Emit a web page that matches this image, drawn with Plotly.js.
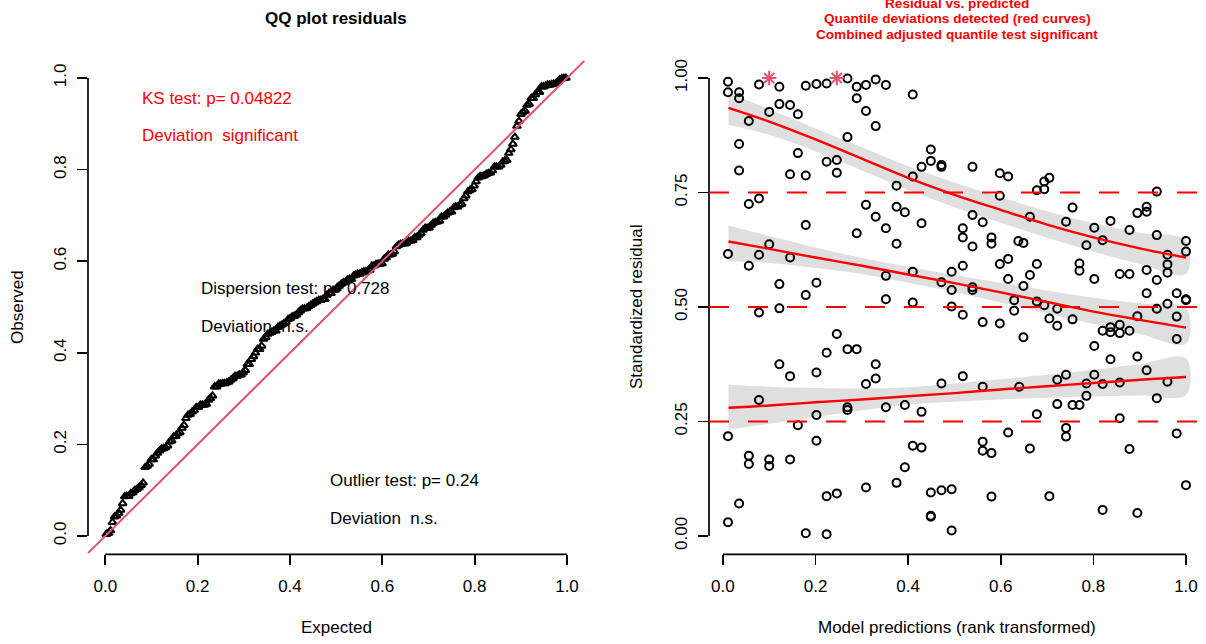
<!DOCTYPE html>
<html>
<head>
<meta charset="utf-8">
<script src="https://cdn.plot.ly/plotly-3.0.1.min.js"></script>
<style>html,body{margin:0;padding:0;background:#fff;}#chart{width:1206px;height:644px;}</style>
</head>
<body>
<div id="chart"></div>
<script>
// ---------- data ----------
// rank-transformed model predictions (x) and scaled residuals (y)
const pred = [
0.011,0.011,0.035,0.035,0.078,0.122,0.179,0.202,0.224,0.269,0.289,0.309,0.330,0.289,0.309,0.330,0.122,0.145,0.162,0.100,0.056,0.035,0.035,0.162,0.145,0.179,0.224,0.246,0.246,0.269,0.056,0.078,0.179,0.309,0.330,
0.352,0.410,0.449,0.449,0.429,0.472,0.472,0.539,0.598,0.616,0.410,0.375,0.375,0.393,0.429,0.518,0.539,0.561,0.598,0.663,0.678,0.694,0.694,0.705,
0.937,0.755,0.741,0.802,0.837,0.895,0.915,0.915,0.878,
0.289,0.011,0.056,0.078,0.100,0.145,0.122,0.202,0.179,0.078,0.122,0.246,0.224,0.269,0.289,0.122,0.145,0.202,0.330,0.330,0.309,0.078,
0.352,0.518,0.375,0.539,0.580,0.580,0.638,0.649,0.598,0.616,0.678,0.663,0.616,0.649,0.518,0.494,0.410,0.352,0.472,0.494,0.539,0.539,0.352,0.410,0.494,0.518,0.561,0.598,0.629,0.629,0.649,0.678,0.694,0.705,0.472,0.518,0.561,0.640,
0.937,0.785,0.820,1.000,1.000,0.960,0.960,0.960,0.915,0.937,0.857,0.878,0.802,0.770,0.770,0.915,0.980,1.000,1.000,0.960,0.937,0.980,0.980,0.895,0.722,0.722,0.755,0.820,0.837,0.837,0.857,0.857,0.878,0.802,0.837,0.895,0.915,0.741,0.722,0.785,0.802,0.820,0.857,0.960,0.785,0.937,
0.269,0.269,0.202,0.162,0.011,0.202,0.056,0.056,0.100,0.100,0.145,0.035,0.011,0.224,0.246,0.309,0.179,0.224,
0.352,0.393,0.429,0.678,0.616,0.663,0.410,0.429,0.561,0.561,0.580,0.393,0.375,0.449,0.472,0.494,0.580,0.449,0.449,0.494,0.705,
0.722,0.755,0.770,0.741,0.741,0.857,0.980,0.878,1.000,0.820,0.895
];
const resid = [
0.992,0.969,0.969,0.956,0.986,0.981,0.983,0.987,0.988,0.999,0.981,0.985,0.997,0.956,0.928,0.895,0.943,0.941,0.921,0.926,0.906,0.856,0.798,0.836,0.790,0.787,0.817,0.821,0.793,0.871,0.725,0.737,0.679,0.723,0.697,
0.985,0.964,0.844,0.819,0.806,0.810,0.806,0.806,0.792,0.785,0.785,0.765,0.719,0.707,0.683,0.672,0.701,0.685,0.743,0.697,0.755,0.757,0.774,0.782,
0.752,0.717,0.686,0.673,0.688,0.705,0.719,0.708,0.668,
0.661,0.616,0.590,0.614,0.637,0.608,0.550,0.553,0.526,0.488,0.497,0.441,0.400,0.408,0.408,0.375,0.349,0.357,0.375,0.344,0.332,0.297,
0.672,0.652,0.638,0.632,0.652,0.638,0.644,0.640,0.594,0.605,0.594,0.570,0.561,0.546,0.590,0.577,0.577,0.568,0.554,0.537,0.543,0.537,0.517,0.510,0.501,0.483,0.467,0.464,0.515,0.492,0.434,0.512,0.504,0.475,0.333,0.349,0.326,0.326,
0.657,0.635,0.646,0.644,0.621,0.614,0.593,0.575,0.581,0.559,0.572,0.572,0.561,0.595,0.579,0.530,0.530,0.517,0.515,0.507,0.496,0.479,0.430,0.480,0.496,0.459,0.473,0.448,0.456,0.445,0.461,0.443,0.448,0.415,0.386,0.392,0.362,0.352,0.341,0.333,0.352,0.332,0.335,0.337,0.306,0.301,
0.281,0.275,0.264,0.242,0.218,0.208,0.175,0.157,0.167,0.153,0.167,0.071,0.030,0.087,0.093,0.106,0.006,0.004,
0.281,0.286,0.271,0.266,0.226,0.191,0.197,0.193,0.206,0.186,0.181,0.150,0.116,0.095,0.100,0.102,0.086,0.044,0.042,0.012,0.087,
0.288,0.286,0.286,0.236,0.217,0.257,0.224,0.190,0.111,0.057,0.050
];
// outliers (drawn as stars)
const outPred = [0.100, 0.246];
const outRes  = [1.000, 1.000];

// quantile regression curves and their confidence bands
const qx    = [0.012, 0.1, 0.2, 0.3, 0.4, 0.5, 0.6, 0.7, 0.8, 0.9, 1.0];
const q75   = [0.935, 0.905, 0.866, 0.824, 0.782, 0.745, 0.712, 0.680, 0.652, 0.628, 0.608];
const q75hi = [0.968, 0.932, 0.890, 0.849, 0.808, 0.772, 0.740, 0.709, 0.683, 0.662, 0.645];
const q75lo = [0.898, 0.876, 0.840, 0.798, 0.756, 0.718, 0.684, 0.651, 0.621, 0.594, 0.572];
const q50   = [0.643, 0.627, 0.608, 0.590, 0.571, 0.552, 0.532, 0.511, 0.490, 0.472, 0.455];
const q50hi = [0.678, 0.655, 0.630, 0.607, 0.588, 0.570, 0.553, 0.536, 0.520, 0.508, 0.498];
const q50lo = [0.600, 0.596, 0.585, 0.572, 0.553, 0.533, 0.510, 0.486, 0.463, 0.441, 0.420];
const q25   = [0.280, 0.285, 0.292, 0.298, 0.305, 0.312, 0.320, 0.327, 0.334, 0.341, 0.347];
const q25hi = [0.330, 0.326, 0.323, 0.322, 0.325, 0.333, 0.342, 0.352, 0.363, 0.375, 0.388];
const q25lo = [0.232, 0.245, 0.260, 0.274, 0.287, 0.293, 0.298, 0.302, 0.305, 0.307, 0.308];
const refQuantiles = [0.25, 0.5, 0.75];

// tick labels
const qqTickVals = [0, 0.2, 0.4, 0.6, 0.8, 1.0];
const qqTickText = ['0.0', '0.2', '0.4', '0.6', '0.8', '1.0'];
const resTickVals = [0, 0.25, 0.5, 0.75, 1.0];
const resTickText = ['0.00', '0.25', '0.50', '0.75', '1.00'];

// test annotations
const ksText = 'KS test: p= 0.04822';
const ksDev = 'Deviation\u00a0 significant';
const dispText = 'Dispersion test: p= 0.728';
const dispDev = 'Deviation\u00a0 n.s.';
const outText = 'Outlier test: p= 0.24';
const outDev = 'Deviation\u00a0 n.s.';

// ---------- build ----------
const FONT = 'Liberation Sans, Arial, Helvetica, sans-serif';
const W = 1206, H = 644;
const px = v => v / W;
const py = v => 1 - v / H;

const allRes = resid.concat(outRes).slice().sort((a, b) => a - b);
const n = allRes.length;
const expected = allRes.map((_, i) => (i + 0.5) / n);

const traces = [];
traces.push({
  x: expected, y: allRes, xaxis: 'x', yaxis: 'y', type: 'scatter', mode: 'markers',
  marker: {symbol: 'triangle-up-open', size: 7, color: '#000', line: {width: 2}},
  hoverinfo: 'skip'
});
traces.push({
  x: pred, y: resid, xaxis: 'x2', yaxis: 'y2', type: 'scatter', mode: 'markers',
  marker: {symbol: 'circle-open', size: 8, color: '#000', line: {width: 2}},
  hoverinfo: 'skip'
});
traces.push({
  x: outPred, y: outRes, xaxis: 'x2', yaxis: 'y2', type: 'scatter', mode: 'markers',
  marker: {symbol: 'asterisk-open', size: 12, color: '#DF536B', line: {width: 2, color: '#DF536B'}},
  hoverinfo: 'skip'
});
const bands = [[q25, q25lo, q25hi], [q50, q50lo, q50hi], [q75, q75lo, q75hi]];
bands.forEach(([mid, lo, hi]) => {
  traces.push({
    x: qx.concat(qx.slice().reverse()), y: hi.concat(lo.slice().reverse()),
    xaxis: 'x2', yaxis: 'y2', type: 'scatter', mode: 'lines', fill: 'toself',
    fillcolor: 'rgba(0,0,0,0.125)', line: {width: 0, shape: 'spline'}, hoverinfo: 'skip'
  });
  traces.push({
    x: qx, y: mid, xaxis: 'x2', yaxis: 'y2', type: 'scatter', mode: 'lines',
    line: {color: '#FF0000', width: 2.4, shape: 'spline'}, hoverinfo: 'skip'
  });
});

const axBase = {
  showgrid: false, zeroline: false, showline: false, ticks: 'outside', ticklen: 10,
  tickwidth: 1.7, tickcolor: '#000', tickfont: {family: FONT, size: 17, color: '#000'},
  fixedrange: true, automargin: false
};
const yDom = [py(554.3), py(59.7)];
const layout = {
  width: W, height: H, margin: {l: 0, r: 0, t: 0, b: 0},
  paper_bgcolor: '#fff', plot_bgcolor: 'rgba(0,0,0,0)', showlegend: false,
  xaxis: Object.assign({}, axBase, {domain: [px(88), px(584.3)], range: [-0.0375, 1.0375], anchor: 'y',
    tickmode: 'array', tickvals: qqTickVals, ticktext: qqTickText, ticklabelstandoff: 6}),
  yaxis: Object.assign({}, axBase, {domain: yDom, range: [-0.04, 1.04], anchor: 'x',
    tickmode: 'array', tickvals: qqTickVals, ticktext: qqTickText, tickangle: -90, ticklabelstandoff: 4}),
  xaxis2: Object.assign({}, axBase, {domain: [px(709), px(1204.5)], range: [-0.030, 1.040], anchor: 'y2',
    tickmode: 'array', tickvals: qqTickVals, ticktext: qqTickText, ticklabelstandoff: 6}),
  yaxis2: Object.assign({}, axBase, {domain: yDom, range: [-0.04, 1.04], anchor: 'x2',
    tickmode: 'array', tickvals: resTickVals, ticktext: resTickText, tickangle: -90, ticklabelstandoff: 4}),
  shapes: [],
  annotations: []
};
const axLine = {color: '#000', width: 1.7};
// R-style axis lines spanning first to last tick
layout.shapes.push({type: 'line', xref: 'x', yref: 'y domain', x0: 0, x1: 1, y0: 0, y1: 0, line: axLine});
layout.shapes.push({type: 'line', xref: 'x domain', yref: 'y', x0: 0, x1: 0, y0: 0, y1: 1, line: axLine});
layout.shapes.push({type: 'line', xref: 'x2', yref: 'y2 domain', x0: 0, x1: 1, y0: 0, y1: 0, line: axLine});
layout.shapes.push({type: 'line', xref: 'x2 domain', yref: 'y2', x0: 0, x1: 0, y0: 0, y1: 1, line: axLine});
// 1:1 reference line in QQ plot
layout.shapes.push({type: 'line', xref: 'x domain', yref: 'y', x0: 0, x1: 1, y0: -0.0375, y1: 1.0375,
  line: {color: '#DF536B', width: 2}});
// dashed reference quantiles
refQuantiles.forEach(q => layout.shapes.push({type: 'line', xref: 'x2 domain', yref: 'y2', x0: 0, x1: 1, y0: q, y1: q,
  line: {color: '#FF0000', width: 2, dash: '20px,19px'}}));

function ann(text, x, y, opts) {
  layout.annotations.push(Object.assign({
    text: text, x: px(x), y: py(y), xref: 'paper', yref: 'paper', showarrow: false,
    xanchor: 'center', yanchor: 'middle', font: {family: FONT, size: 17, color: '#000'}
  }, opts || {}));
}
ann('<b>QQ plot residuals</b>', 336, 18);
ann('<b>Residual vs. predicted</b>', 957, 3, {font: {family: FONT, size: 13.6, color: '#FF0000'}});
ann('<b>Quantile deviations detected (red curves)</b>', 957, 18, {font: {family: FONT, size: 13.6, color: '#FF0000'}});
ann('<b>Combined adjusted quantile test significant</b>', 957, 34, {font: {family: FONT, size: 13.6, color: '#FF0000'}});
ann('Expected', 336, 627);
ann('Observed', 18, 307, {textangle: -90});
ann('Model predictions (rank transformed)', 957, 627);
ann('Standardized residual', 637, 307, {textangle: -90});
const red = {family: FONT, size: 17, color: '#FF0000'};
ann(ksText, 140, 99, {xanchor: 'left', font: red});
ann(ksDev, 140, 135, {xanchor: 'left', font: red});
ann(dispText, 199, 289, {xanchor: 'left'});
ann(dispDev, 199, 326, {xanchor: 'left'});
ann(outText, 328, 480, {xanchor: 'left'});
ann(outDev, 328, 518, {xanchor: 'left'});

Plotly.newPlot('chart', traces, layout, {staticPlot: true, displayModeBar: false});
</script>
</body>
</html>
